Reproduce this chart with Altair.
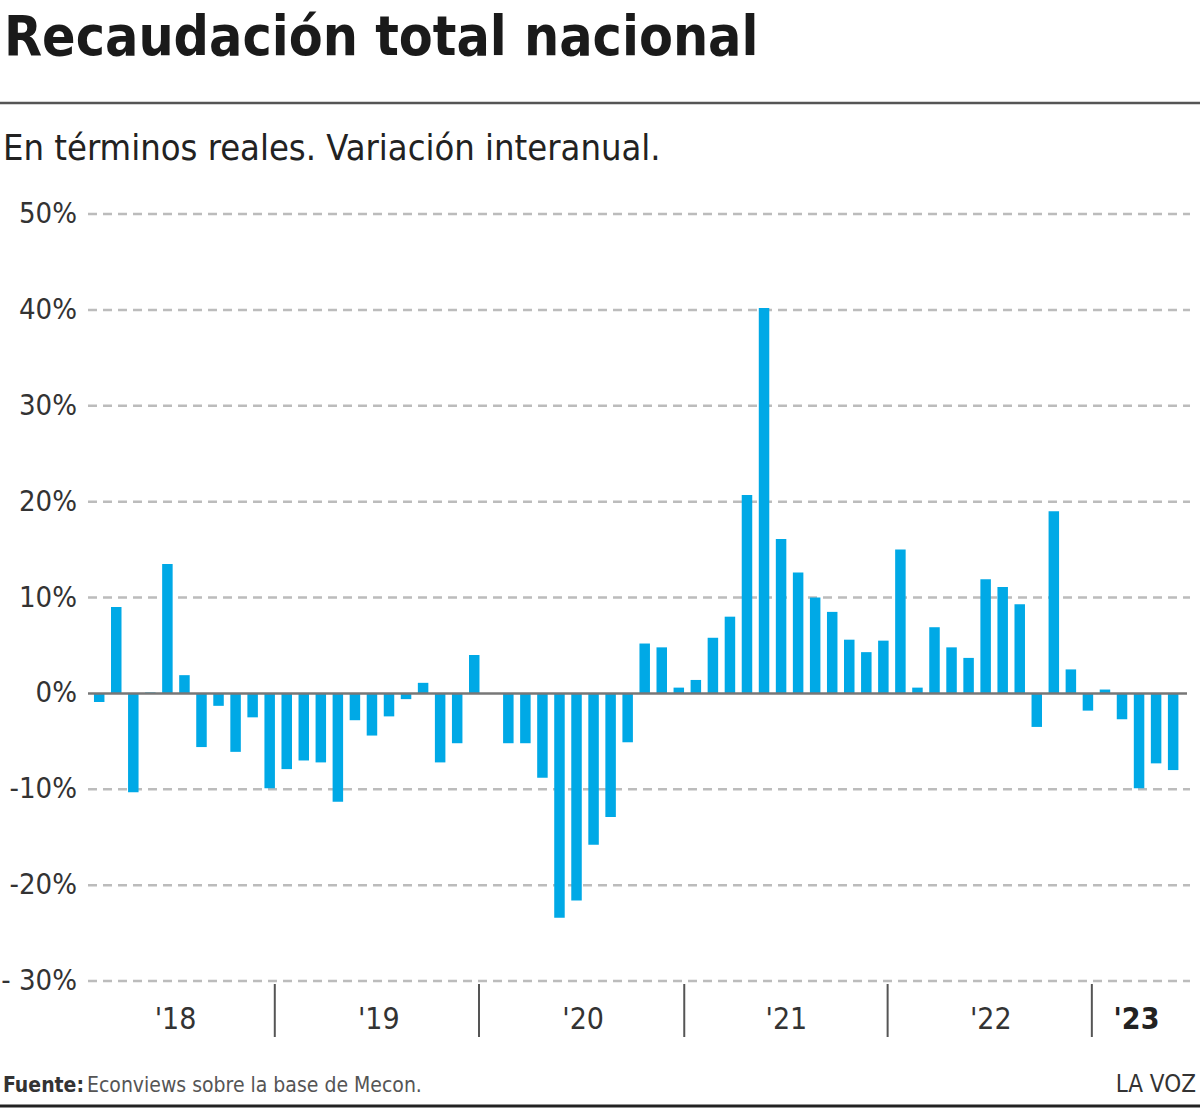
import altair as alt
import pandas as pd

# ---- data ----
values = [
    -0.9, 9.0, -10.3, 0.1, 13.5, 1.9, -5.6, -1.3, -6.1, -2.5, -9.9, -7.9,
    -7.0, -7.2, -11.3, -2.8, -4.4, -2.4, -0.6, 1.1, -7.2, -5.2, 4.0, 0.0,
    -5.2, -5.2, -8.8, -23.4, -21.6, -15.8, -12.9, -5.1, 5.2, 4.8, 0.6, 1.4,
    5.8, 8.0, 20.7, 40.2, 16.1, 12.6, 10.0, 8.5, 5.6, 4.3, 5.5, 15.0,
    0.6, 6.9, 4.8, 3.7, 11.9, 11.1, 9.3, -3.5, 19.0, 2.5, -1.8, 0.4,
    -2.7, -9.9, -7.3, -8.0,
]
months = pd.date_range("2018-01-01", periods=len(values), freq="MS").strftime("%Y-%m").tolist()

grid_values = [50, 40, 30, 20, 10, -10, -20, -30]
tick_values = [50, 40, 30, 20, 10, 0, -10, -20, -30]
tick_labels = ["50%", "40%", "30%", "20%", "10%", "0%", "-10%", "-20%", "- 30%"]

year_labels = ["'18", "'19", "'20", "'21", "'22"]
year_label_pos = [4.48, 16.4, 28.39, 40.31, 52.3]
last_year_label = ["'23"]
last_year_pos = [60.85]
separator_pos = [10.30, 22.28, 34.32, 46.25, 58.23]

TITLE = "Recaudación total nacional"
SUBTITLE = "En términos reales. Variación interanual."
SOURCE_BOLD = "Fuente:"
SOURCE_TEXT = "Econviews sobre la base de Mecon."
BRAND = "LA VOZ"

# ---- layout ----
W, H = 1200, 1108
FONT = "Liberation Sans Narrow, DejaVu Sans Condensed, Roboto, sans-serif"
BAR_COLOR = "#00A9E6"

# pixel geometry of the plot: value 50 -> y 214, -30 -> y 981 ; bar i -> x 95 + 17.19 i
px_per_pct = (981 - 214) / 80.0
y_top = 50 + 214 / px_per_pct
y_bot = -30 - (H - 981) / px_per_pct
step = 17.19
x_left = -95 / step
x_right = (W - 95) / step

xs = alt.Scale(domain=[x_left, x_right], nice=False, zero=False)
ys = alt.Scale(domain=[y_bot, y_top], nice=False, zero=False)

bars_df = pd.DataFrame({"i": list(range(len(values))), "month": months,
                        "value": values, "base": [0.0] * len(values)})
grid_df = pd.DataFrame({"v": grid_values})
zero_df = pd.DataFrame({"v": [0.0]})
ticks_df = pd.DataFrame({"v": tick_values, "label": tick_labels})
years_df = pd.DataFrame({"pos": year_label_pos, "label": year_labels})
last_df = pd.DataFrame({"pos": last_year_pos, "label": last_year_label})
sep_df = pd.DataFrame({"pos": separator_pos})


def txt(s):
    return pd.DataFrame({"t": [s]})


grid = alt.Chart(grid_df).mark_rule(color="#bcbcbc", strokeWidth=2.5, strokeDash=[9, 6]).encode(
    y=alt.Y("v:Q", scale=ys, axis=None), x=alt.value(88), x2=alt.value(1190)
)
ylab = alt.Chart(ticks_df).mark_text(
    align="right", baseline="middle", font=FONT, fontSize=29, color="#333333"
).encode(y=alt.Y("v:Q", scale=ys, axis=None), x=alt.value(77), text="label:N")

bars = alt.Chart(bars_df).mark_bar(color=BAR_COLOR, size=10.5).encode(
    x=alt.X("i:Q", scale=xs, axis=None),
    y=alt.Y("value:Q", scale=ys, axis=None),
    y2="base:Q",
    tooltip=["month:N", "value:Q"],
)
zero = alt.Chart(zero_df).mark_rule(color="#777777", strokeWidth=2.5).encode(
    y=alt.Y("v:Q", scale=ys, axis=None), x=alt.value(88), x2=alt.value(1187)
)
seps = alt.Chart(sep_df).mark_rule(color="#555555", strokeWidth=2).encode(
    x=alt.X("pos:Q", scale=xs, axis=None), y=alt.value(984), y2=alt.value(1037)
)
ylabels = alt.Chart(years_df).mark_text(
    align="center", baseline="alphabetic", font=FONT, fontSize=30, color="#333333"
).encode(x=alt.X("pos:Q", scale=xs, axis=None), y=alt.value(1029), text="label:N")
ylast = alt.Chart(last_df).mark_text(
    align="center", baseline="alphabetic", font=FONT, fontSize=30, fontWeight="bold", color="#222222"
).encode(x=alt.X("pos:Q", scale=xs, axis=None), y=alt.value(1029), text="label:N")

title = alt.Chart(txt(TITLE)).mark_text(
    align="left", baseline="alphabetic", font=FONT, fontSize=55, fontWeight="bold", color="#1a1a1a"
).encode(x=alt.value(4), y=alt.value(55), text="t:N")
hr = alt.Chart(txt("")).mark_rule(color="#555555", strokeWidth=2.5).encode(
    x=alt.value(0), x2=alt.value(W), y=alt.value(103)
)
subtitle = alt.Chart(txt(SUBTITLE)).mark_text(
    align="left", baseline="alphabetic", font=FONT, fontSize=36, color="#222222"
).encode(x=alt.value(3), y=alt.value(160), text="t:N")

src_b = alt.Chart(txt(SOURCE_BOLD)).mark_text(
    align="left", baseline="alphabetic", font=FONT, fontSize=21, fontWeight="bold", color="#333333"
).encode(x=alt.value(3), y=alt.value(1092), text="t:N")
src_t = alt.Chart(txt(SOURCE_TEXT)).mark_text(
    align="left", baseline="alphabetic", font=FONT, fontSize=21, color="#555555"
).encode(x=alt.value(87), y=alt.value(1092), text="t:N")
brand = alt.Chart(txt(BRAND)).mark_text(
    align="right", baseline="alphabetic", font=FONT, fontSize=24, color="#333333"
).encode(x=alt.value(1196), y=alt.value(1092), text="t:N")
bottom = alt.Chart(txt("")).mark_rule(color="#222222", strokeWidth=3).encode(
    x=alt.value(0), x2=alt.value(W), y=alt.value(1106)
)

chart = alt.layer(
    grid, bars, zero, ylab, seps, ylabels, ylast, title, hr, subtitle, src_b, src_t, brand, bottom
).properties(
    width=W, height=H, padding=0, autosize=alt.AutoSizeParams(type="none"), background="white"
).configure_view(stroke=None)

chart.save("out.html", embed_options={"renderer": "svg", "actions": False})
